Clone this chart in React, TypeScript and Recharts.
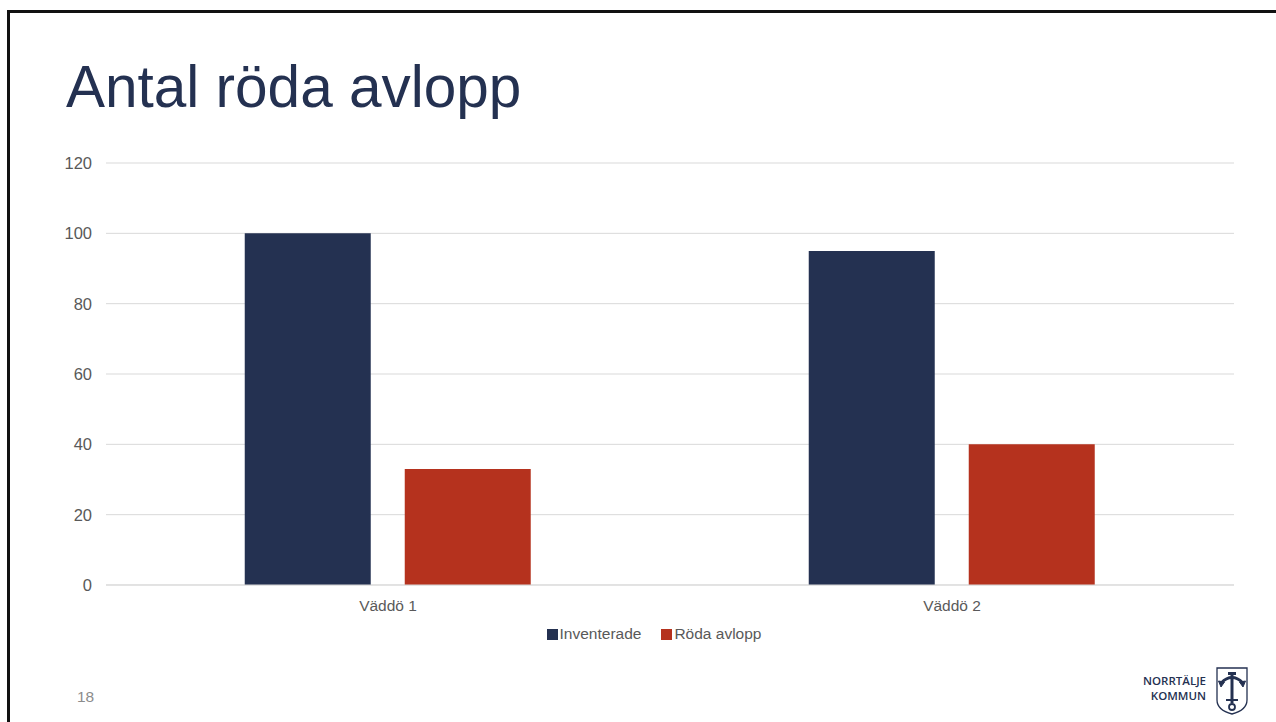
import { BarChart, Bar, CartesianGrid, XAxis, YAxis, Legend } from "recharts";

const CATEGORIES = ["Väddö 1", "Väddö 2"];
const INVENTERADE = [100, 95];
const RODA_AVLOPP = [33, 40];
const Y_TICKS = [0, 20, 40, 60, 80, 100, 120];

const NAVY = "#243151";
const RED = "#B5321E";
const FONT = "'Liberation Sans', Arial, sans-serif";

const data = CATEGORIES.map((name, i) => ({
  name,
  inventerade: INVENTERADE[i],
  roda: RODA_AVLOPP[i],
}));

// legend drawn like the office one: square, tight gap, wider spacing
function LegendContent({ payload }: any) {
  return (
    <div style={{ display: "flex", justifyContent: "center", paddingLeft: 34, fontFamily: FONT, fontSize: 15.5, color: "#595959" }}>
      {(payload || []).map((p: any, i: number) => (
        <div key={i} style={{ display: "flex", alignItems: "center", marginRight: i === 0 ? 20 : 0 }}>
          <span style={{ display: "inline-block", width: 11, height: 11, background: p.color, marginRight: 2 }} />
          <span>{p.value}</span>
        </div>
      ))}
    </div>
  );
}

const logoText = {
  position: "absolute" as const,
  right: 48,
  fontFamily: "'Open Sans', sans-serif",
  fontSize: 11.5,
  fontWeight: 600,
  color: NAVY,
  lineHeight: "14px",
  height: 14,
  whiteSpace: "nowrap" as const,
  letterSpacing: 0,
};

function Logo() {
  return (
    <div style={{ position: "absolute", left: 1134, top: 664, width: 120, height: 54 }}>
      <div style={{ ...logoText, top: 10 }}>NORRTÄLJE</div>
      <div style={{ ...logoText, top: 25 }}>KOMMUN</div>
      <svg style={{ position: "absolute", left: 81, top: 2 }} width="34" height="50" viewBox="0 0 34 50">
        <path d="M2 2 H32 V34 Q32 44 17 48 Q2 44 2 34 Z" fill="#fff" stroke={NAVY} strokeWidth="1.3" />
        <line x1="17" y1="9" x2="17" y2="37" stroke={NAVY} strokeWidth="3" />
        <path d="M6 17 Q17 6 28 17" fill="none" stroke={NAVY} strokeWidth="2.6" />
        <path d="M3.5 15 L6 21 L9.5 16 Z M30.5 15 L28 21 L24.5 16 Z" fill={NAVY} stroke={NAVY} strokeWidth="1" />
        <rect x="13" y="6" width="8" height="3" fill={NAVY} />
        <line x1="11" y1="34" x2="23" y2="34" stroke={NAVY} strokeWidth="2" />
        <circle cx="17" cy="41" r="3" fill="none" stroke={NAVY} strokeWidth="1.8" />
      </svg>
    </div>
  );
}

export default function App() {
  return (
    <div style={{ position: "absolute", left: 0, top: 0, width: 1276, height: 722, background: "#fff", overflow: "hidden" }}>
      {/* slide border */}
      <div style={{ position: "absolute", left: 7, top: 10, width: 1280, height: 3, background: "#111" }} />
      <div style={{ position: "absolute", left: 7, top: 10, width: 3, height: 720, background: "#111" }} />

      <div
        style={{
          position: "absolute",
          left: 66,
          top: 52,
          fontFamily: FONT,
          fontSize: 58.5,
          color: NAVY,
          lineHeight: "70px",
          whiteSpace: "nowrap",
        }}
      >
        Antal röda avlopp
      </div>

      <div style={{ position: "absolute", left: 0, top: 140 }}>
        <BarChart
          width={1276}
          height={503}
          data={data}
          margin={{ top: 23, right: 42, bottom: 0, left: 40 }}
          barCategoryGap="24.6%"
          barGap={34}
        >
          <CartesianGrid vertical={false} stroke="#d9d9d9" />
          <XAxis
            dataKey="name"
            tickLine={false}
            axisLine={{ stroke: "#d9d9d9" }}
            tickMargin={9}
            tick={{ fill: "#595959", fontSize: 15.5, fontFamily: FONT }}
            height={40}
          />
          <YAxis
            width={66}
            domain={[0, 120]}
            ticks={Y_TICKS}
            axisLine={false}
            tickLine={false}
            tickMargin={8}
            tick={{ fill: "#595959", fontSize: 16.5, fontFamily: FONT }}
          />
          <Legend verticalAlign="bottom" content={<LegendContent />} />
          <Bar dataKey="inventerade" name="Inventerade" fill={NAVY} isAnimationActive={false} />
          <Bar dataKey="roda" name="Röda avlopp" fill={RED} isAnimationActive={false} />
        </BarChart>
      </div>

      <div
        style={{
          position: "absolute",
          left: 77,
          top: 688,
          fontFamily: FONT,
          fontSize: 15.5,
          color: "#8c8c8c",
        }}
      >
        18
      </div>
      <Logo />
    </div>
  );
}
